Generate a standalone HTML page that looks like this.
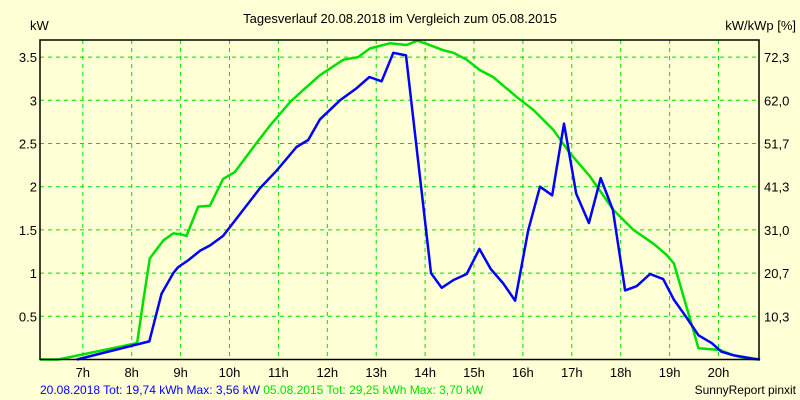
<!DOCTYPE html>
<html><head><meta charset="utf-8"><style>
html,body{margin:0;padding:0;background:#ffffd5;}
svg{display:block;font-family:"Liberation Sans",sans-serif;}
</style></head><body>
<svg id="chart" width="800" height="400" viewBox="0 0 800 400" xmlns="http://www.w3.org/2000/svg">
<rect x="0" y="0" width="800" height="400" fill="#ffffd5"/>
<text x="400" y="23" text-anchor="middle" font-size="13" fill="#000">Tagesverlauf 20.08.2018 im Vergleich zum 05.08.2015</text>
<text x="30" y="30" font-size="13" fill="#000">kW</text>
<text x="796" y="30" text-anchor="end" font-size="13" fill="#000">kW/kWp [%]</text>
<g id="grid"></g>
<g id="series"></g>
<rect x="40" y="40" width="719" height="319.5" fill="none" stroke="#000" stroke-width="1.5"/>
<g id="labels"></g>
<text x="40" y="394" font-size="12"><tspan fill="#0000ff">20.08.2018 Tot: 19,74 kWh Max: 3,56 kW </tspan><tspan fill="#00e000">05.08.2015 Tot: 29,25 kWh Max: 3,70 kW</tspan></text>
<text x="796" y="394" text-anchor="end" font-size="12" fill="#000">SunnyReport pinxit</text>
</svg>
<script>
const hourTicks = [7,8,9,10,11,12,13,14,15,16,17,18,19,20];
const kwTicks = [0.5,1,1.5,2,2.5,3,3.5];
const pctLabels = ["10,3","20,7","31,0","41,3","51,7","62,0","72,3"];
const blueHours = [6.88,8.36,8.61,8.85,8.95,9.16,9.40,9.60,9.87,10.62,10.97,11.37,11.61,11.85,12.26,12.6,12.86,13.11,13.35,13.61,14.12,14.34,14.58,14.85,15.11,15.34,15.6,15.84,16.11,16.35,16.6,16.84,17.09,17.35,17.59,17.84,18.09,18.33,18.6,18.87,19.09,19.33,19.59,19.86,20.06,20.3,20.71,20.85];
const blueKw = [0,0.21,0.76,1.0,1.07,1.15,1.26,1.32,1.43,1.98,2.19,2.46,2.54,2.78,3.0,3.14,3.27,3.22,3.55,3.52,1.0,0.83,0.92,0.99,1.28,1.05,0.88,0.68,1.5,2.0,1.9,2.73,1.92,1.58,2.1,1.73,0.8,0.85,0.99,0.93,0.69,0.5,0.28,0.19,0.09,0.05,0.01,0];
const greenHours = [6.13,6.5,8.11,8.24,8.37,8.65,8.85,9.0,9.12,9.36,9.6,9.87,10.11,10.49,10.83,11.24,11.51,11.85,12.33,12.63,12.87,13.28,13.62,13.84,14.0,14.37,14.58,14.85,15.12,15.39,15.87,16.21,16.62,16.96,17.37,17.85,18.26,18.67,18.94,19.09,19.59,20.03,20.3,20.57,20.82];
const greenKw = [0,0,0.19,0.69,1.17,1.38,1.46,1.45,1.43,1.77,1.78,2.09,2.17,2.46,2.71,2.98,3.12,3.29,3.47,3.5,3.6,3.66,3.64,3.69,3.66,3.58,3.55,3.47,3.35,3.27,3.04,2.89,2.66,2.39,2.12,1.73,1.5,1.34,1.21,1.11,0.13,0.11,0.05,0.01,0];
const NS="http://www.w3.org/2000/svg";
function xs(h){return 131.7+(h-8)*48.9;}
function ys(v){return 359.5-v*86.4;}
const grid=document.getElementById('grid'), labels=document.getElementById('labels'), series=document.getElementById('series');
hourTicks.forEach(h=>{
  const l=document.createElementNS(NS,'line');
  
  
  l.setAttribute('x1',xs(h));l.setAttribute('x2',xs(h));l.setAttribute('y1',40);l.setAttribute('y2',359.5);
  l.setAttribute('stroke','#00e000');l.setAttribute('stroke-dasharray','4,4');
  grid.appendChild(l);
  const t=document.createElementNS(NS,'text');
  
  
  t.setAttribute('x',xs(h));t.setAttribute('y',377);t.setAttribute('text-anchor','middle');t.setAttribute('font-size','13');
  t.textContent=h+'h';labels.appendChild(t);
});
kwTicks.forEach((v,i)=>{
  const l=document.createElementNS(NS,'line');
  
  
  l.setAttribute('x1',40);l.setAttribute('x2',759);l.setAttribute('y1',ys(v));l.setAttribute('y2',ys(v));
  l.setAttribute('stroke','#00e000');l.setAttribute('stroke-dasharray','4,4');
  grid.appendChild(l);
  const t=document.createElementNS(NS,'text');
  
  
  t.setAttribute('x',37);t.setAttribute('y',ys(v)+5);t.setAttribute('text-anchor','end');t.setAttribute('font-size','13');
  t.textContent=String(v);labels.appendChild(t);
  const t2=document.createElementNS(NS,'text');
  
  
  t2.setAttribute('x',764);t2.setAttribute('y',ys(v)+5);t2.setAttribute('font-size','13');
  t2.textContent=pctLabels[i];labels.appendChild(t2);
});
function line(hs,vs,color,name){
  const p=document.createElementNS(NS,'polyline');
  
  
  p.setAttribute('points',hs.map((h,i)=>xs(h).toFixed(1)+','+ys(vs[i]).toFixed(1)).join(' '));
  p.setAttribute('fill','none');p.setAttribute('stroke',color);p.setAttribute('stroke-width','2.5');p.setAttribute('stroke-linejoin','round');
  series.appendChild(p);
}
line(greenHours,greenKw,'#00e000','series-2015-line');
line(blueHours,blueKw,'#0000ff','series-2018-line');
</script>
</body></html>
